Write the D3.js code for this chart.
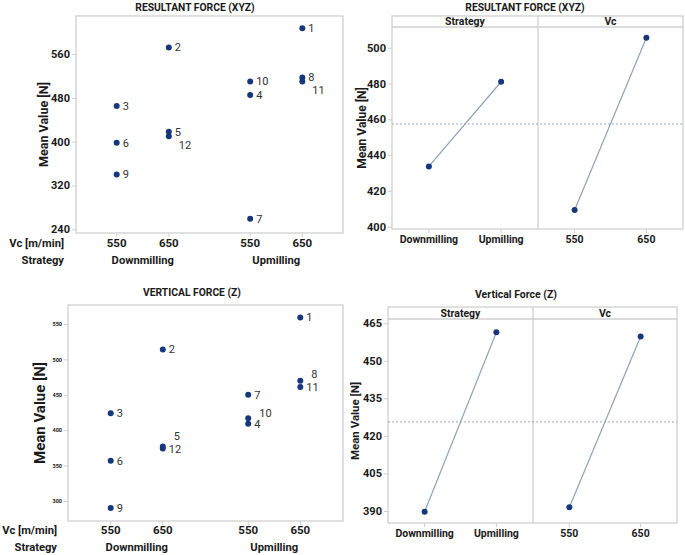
<!DOCTYPE html>
<html><head><meta charset="utf-8">
<script src="https://cdn.jsdelivr.net/npm/d3@7"></script>
<style>
body{margin:0;background:#fff;}
svg{font-family:Roboto,sans-serif;}
</style></head>
<body><svg id="c" width="685" height="555"></svg>
<script>
// ---------- data ----------
const runs = [1,2,3,4,5,6,7,8,9,10,11,12];
const runStrategy = ["Upmilling","Downmilling","Downmilling","Upmilling","Downmilling","Downmilling","Upmilling","Upmilling","Downmilling","Upmilling","Upmilling","Downmilling"];
const runVc = ["650","650","550","550","650","550","550","650","550","550","650","650"];
const resultantForce = [607,572,465,485,418,398,259,517,340,510,510,410];
const verticalForce = [559,514,424,409,377,357,450,470,290,417,461,374];
const strategies = ["Downmilling","Upmilling"];
const vcLevels = ["550","650"];
const resStrategyMeans = [433.7,481.0];
const resVcMeans = [409.3,505.6];
const resGrandMean = 457.4;
const vertStrategyMeans = [389.7,461.4];
const vertVcMeans = [391.5,459.7];
const vertGrandMean = 425.6;
const ticksRes = [240,320,400,480,560];
const ticksResMain = [400,420,440,460,480,500];
const ticksVert = [300,350,400,450,500,550];
const ticksVertMain = [390,405,420,435,450,465];

const svg = d3.select("#c");
const FONT = 'Roboto,sans-serif';
const frameCol = "#cfcfcf", dotCol = "#16377c", lineCol = "#8da1b9", txt = "#1a1a1a";

// label offsets for overlapping points
const labelOff1 = {11:[4,9],12:[4,9]};
const labelOff3 = {5:[5,-10],8:[5,-6],10:[5,-5],12:[0,1]};

function T(g,x,y,s,fs,fw,anchor){
  return g.append("text").attr("x",x).attr("y",y).attr("dy","0.35em").attr("text-anchor",anchor||"middle")
    .style("font-size",fs+"px").style("font-weight",fw).style("font-family",FONT).attr("fill",txt).text(s);
}

function scatterPanel(o){
  const g = svg.append("g");
  const x0 = d3.scaleBand().domain(strategies).range([o.l,o.r]);
  const x1 = d3.scalePoint().domain(vcLevels).range([0,x0.bandwidth()]).padding(o.pad);
  const y = d3.scaleLinear().domain(o.dom).range([o.b,o.t]);
  const X = i => x0(runStrategy[i]) + x1(runVc[i]);
  g.append("rect").attr("x",o.l).attr("y",o.t).attr("width",o.r-o.l).attr("height",o.b-o.t)
    .attr("fill","none").attr("stroke",frameCol).attr("stroke-width",1.3);
  const ya = g.append("g").attr("transform",`translate(${o.l},0)`)
    .call(d3.axisLeft(y).tickValues(o.ticks).tickSize(4).tickPadding(2));
  ya.select(".domain").remove();
  ya.selectAll("line").attr("stroke",frameCol);
  ya.selectAll("text").attr("fill",txt).style("font-size",o.tfs+"px").style("font-weight",700).style("font-family",FONT);
  strategies.forEach(s=>vcLevels.forEach(v=>{
    const xx = x0(s)+x1(v);
    g.append("line").attr("x1",xx).attr("x2",xx).attr("y1",o.b).attr("y2",o.b+4).attr("stroke",frameCol);
    T(g,xx,o.vcY,v,11.5,700);
  }));
  strategies.forEach(s=> T(g,x0(s)+x0.bandwidth()/2,o.stY,s,11.2,700));
  T(g,o.lblX,o.vcY,"Vc [m/min]",11.2,700,"end");
  T(g,o.lblX,o.stY,"Strategy",11.2,700,"end");
  T(g,o.titleX,o.titleY,o.title,10.3,700);
  g.append("text").attr("transform",`translate(${o.ylX},${(o.t+o.b)/2}) rotate(-90)`).attr("text-anchor","middle").attr("dy","0.35em")
    .style("font-size",o.ylfs+"px").style("font-weight",700).style("font-family",FONT).attr("fill",txt).text("Mean Value [N]");
  runs.forEach((r,i)=>{
    const cx = X(i), cy = y(o.vals[i]);
    g.append("circle").attr("cx",cx).attr("cy",cy).attr("r",3).attr("fill",dotCol);
    const off = o.off[r] || [0,0];
    g.append("text").attr("x",cx+6+off[0]).attr("y",cy+off[1]).attr("dy","0.35em")
      .style("font-size","11px").style("font-family",FONT).attr("fill","#333").text(r);
  });
}

function mainPanel(o){
  const g = svg.append("g");
  const mid = o.mid;
  const y = d3.scaleLinear().domain(o.dom).range([o.b,o.hb]);
  g.append("rect").attr("x",o.l).attr("y",o.t).attr("width",o.r-o.l).attr("height",o.b-o.t)
    .attr("fill","none").attr("stroke",frameCol).attr("stroke-width",1.3);
  g.append("line").attr("x1",o.l).attr("x2",o.r).attr("y1",o.hb).attr("y2",o.hb).attr("stroke",frameCol).attr("stroke-width",1.3);
  g.append("line").attr("x1",mid).attr("x2",mid).attr("y1",o.t).attr("y2",o.b).attr("stroke",frameCol).attr("stroke-width",1.3);
  const ya = g.append("g").attr("transform",`translate(${o.l},0)`)
    .call(d3.axisLeft(y).tickValues(o.ticks).tickSize(4).tickPadding(2));
  ya.select(".domain").remove();
  ya.selectAll("line").attr("stroke",frameCol);
  ya.selectAll("text").attr("fill",txt).style("font-size","11px").style("font-weight",700).style("font-family",FONT);
  g.append("line").attr("x1",o.l).attr("x2",o.r).attr("y1",y(o.gm)).attr("y2",y(o.gm))
    .attr("stroke","#9aa6b4").attr("stroke-dasharray","2,2").attr("stroke-width",1);
  const facets = [
    {name:"Strategy",levels:strategies,means:o.sMeans,x:d3.scalePoint().domain(strategies).range([o.l,mid]).padding(0.51)},
    {name:"Vc",levels:vcLevels,means:o.vMeans,x:d3.scalePoint().domain(vcLevels).range([mid,o.r]).padding(0.51)}
  ];
  facets.forEach(f=>{
    const [a,b] = f.x.range();
    T(g,(a+b)/2,(o.t+o.hb)/2,f.name,10.5,700);
    const line = d3.line().x((d,i)=>f.x(f.levels[i])).y(d=>y(d));
    g.append("path").attr("d",line(f.means)).attr("fill","none").attr("stroke",lineCol).attr("stroke-width",1.2);
    f.levels.forEach((lv,i)=>{
      g.append("circle").attr("cx",f.x(lv)).attr("cy",y(f.means[i])).attr("r",3).attr("fill",dotCol);
      g.append("line").attr("x1",f.x(lv)).attr("x2",f.x(lv)).attr("y1",o.b).attr("y2",o.b+4).attr("stroke",frameCol);
      T(g,f.x(lv),o.xlY,lv,10.5,700);
    });
  });
  T(g,o.titleX,o.titleY,o.title,o.titfs,700);
  g.append("text").attr("transform",`translate(${o.ylX},${(o.hb+o.b)/2}) rotate(-90)`).attr("text-anchor","middle").attr("dy","0.35em")
    .style("font-size",o.ylfs+"px").style("font-weight",700).style("font-family",FONT).attr("fill",txt).text("Mean Value [N]");
}

scatterPanel({l:76,r:343,t:16,b:233,dom:[233.2,629.4],pad:0.78,ticks:ticksRes,tfs:11,vals:resultantForce,off:labelOff1,
  vcY:243,stY:260,lblX:64,title:"RESULTANT FORCE (XYZ)",titleX:195,titleY:7,ylX:44,ylfs:12.5});
scatterPanel({l:68,r:343,t:305,b:521,dom:[271.8,576.8],pad:0.82,ticks:ticksVert,tfs:5.5,vals:verticalForce,off:labelOff3,
  vcY:530,stY:547,lblX:57,title:"VERTICAL FORCE (Z)",titleX:192,titleY:292,ylX:40,ylfs:15});
mainPanel({l:392,r:683,t:16,hb:27,b:229,mid:538,dom:[398.7,511.6],ticks:ticksResMain,gm:resGrandMean,
  sMeans:resStrategyMeans,vMeans:resVcMeans,xlY:239,title:"RESULTANT FORCE (XYZ)",titleX:525,titleY:7,titfs:10.3,ylX:362,ylfs:12});
mainPanel({l:388,r:677,t:307,hb:319,b:523,mid:533,dom:[385.2,466.7],ticks:ticksVertMain,gm:vertGrandMean,
  sMeans:vertStrategyMeans,vMeans:vertVcMeans,xlY:533,title:"Vertical Force (Z)",titleX:516,titleY:294,titfs:10.5,ylX:355,ylfs:11.5});
</script></body></html>
